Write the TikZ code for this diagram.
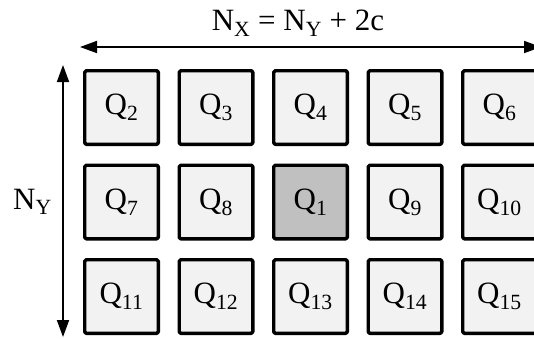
\documentclass[tikz,border=0pt]{standalone}
\usepackage{fontspec}
\setmainfont{Liberation Serif}
\usetikzlibrary{arrows.meta,positioning}
\usepackage{xcolor}
\definecolor{cellgray}{HTML}{F2F2F2}
\definecolor{ownergray}{HTML}{C0C0C0}
\newcommand{\cellpitch}{94.5}
\tikzset{
  cell/.style={draw,line width=3.4pt,rounded corners=1.5pt,fill=cellgray,
    minimum size=73.6pt,inner sep=0pt,font=\fontsize{31}{34}\selectfont},
  owner cell/.style={cell,fill=ownergray},
  dim arrow/.style={line width=1.8pt,{Triangle[length=17pt,width=12pt]}-{Triangle[length=17pt,width=12pt]}},
  dim label/.style={font=\fontsize{31}{34}\selectfont,inner sep=1pt}
}

\begin{document}
\begin{tikzpicture}[x=1pt,y=-1pt,line cap=round,line join=round]
  \useasboundingbox (0,0) rectangle (534,338);

  % the 3x5 grid of cells, Q1 in the middle
  \foreach \lab/\col/\row/\sty in {
      2/0/0/cell, 3/1/0/cell, 4/2/0/cell, 5/3/0/cell, 6/4/0/cell,
      7/0/1/cell, 8/1/1/cell, 1/2/1/owner cell, 9/3/1/cell, 10/4/1/cell,
      11/0/2/cell, 12/1/2/cell, 13/2/2/cell, 14/3/2/cell, 15/4/2/cell} {
    \node[\sty] (Q\lab) at (121.5+\cellpitch*\col,107.5+\cellpitch*\row) {Q\textsubscript{\lab}};
  }

  % dimensions
  \coordinate (xl) at (80,47);
  \coordinate (xr) at (541,47);
  \coordinate (yt) at (63,65);
  \coordinate (yb) at (63,337);
  \draw[dim arrow] (xl) -- (xr);
  \draw[dim arrow] (yt) -- (yb);
  \node[dim label] (nx) at (298,23) {N\textsubscript{X} = N\textsubscript{Y} + 2c};
  \node[dim label,left=10pt of yt|-Q7] (ny) {N\textsubscript{Y}};
\end{tikzpicture}
\end{document}
